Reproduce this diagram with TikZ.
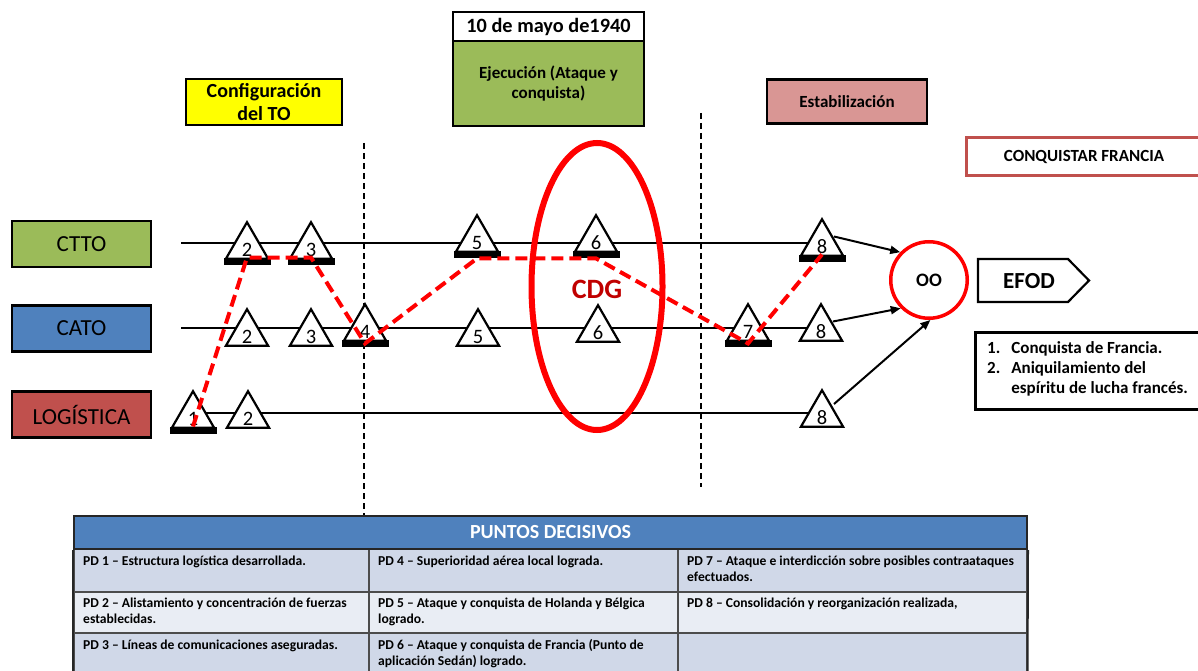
\documentclass[tikz,border=0pt]{standalone}
\usepackage{fontspec}
\setmainfont{Carlito}
\usetikzlibrary{shapes.geometric,arrows.meta}
\definecolor{cgreen}{HTML}{9BBB59}
\definecolor{cblue}{HTML}{4F81BD}
\definecolor{cred}{HTML}{C0504D}
\definecolor{cpink}{HTML}{D99694}
\definecolor{cyel}{HTML}{FFFF00}
\definecolor{cdark}{HTML}{C00000}
\definecolor{bright}{HTML}{FF0000}
\definecolor{rowa}{HTML}{D0D8E8}
\definecolor{rowb}{HTML}{E9EDF4}
\newcommand\fsz[2]{\fontsize{#1}{#2}\selectfont}
\newcommand\ml[1]{\begin{tabular}[t]{@{}l@{}}#1\end{tabular}}
% triangle: name, x, apex y, number
\newcommand\tri[4]{\draw[trist] (#2,#3+2.2) -- ++(21.1,36.55) -- ++(-42.2,0) -- cycle; \node[num] (#1) at (#2,#3+29.5) {#4};}
% bar under a triangle: name, x, apex y
\newcommand\tribar[3]{\node[tbar] (#1) at (#2,#3+37.5) {};}
\begin{document}
\begin{tikzpicture}[x=1pt,y=-1pt,
  box/.style={draw=black, line width=2.5pt, inner sep=0pt, align=center},
  lbl/.style={box, minimum width=139pt, minimum height=46pt, font=\fsz{23}{27}},
  trist/.style={draw=black, line width=2.2pt, fill=white},
  num/.style={inner sep=0pt, font=\fsz{20.5}{25}},
  tbar/.style={rectangle, fill=black, minimum width=47pt, minimum height=7.5pt, inner sep=0pt, anchor=north},
  hline/.style={line width=2pt, black},
  vdash/.style={line width=1.5pt, dash pattern=on 6pt off 4pt},
  rdash/.style={line width=4pt, bright, dash pattern=on 12pt off 6pt},
  arr/.style={line width=2pt, -{Triangle[length=10pt,width=8pt]}},
  cell/.style={draw=black!70, line width=1.5pt, inner sep=0pt, anchor=north west},
  ctext/.style={font=\fsz{13.6}{16}\bfseries, anchor=base west, inner sep=0pt}
]
\useasboundingbox (0,0) rectangle (1198,671);
\clip (0,0) rectangle (1198,671);

% top boxes
\node[box, fill=white, minimum width=191pt, minimum height=29pt, font=\fsz{20.3}{24}\bfseries] (date) at (548.5,26.5) {10 de mayo de1940};
\node[box, fill=cgreen, minimum width=191pt, minimum height=85pt, font=\fsz{17}{20}\bfseries] (ejec) at (548.5,83.5) {Ejecución (Ataque y\\conquista)};
\node[box, fill=cyel, minimum width=156pt, minimum height=46pt, font=\fsz{20}{23}\bfseries] (conf) at (264,102) {Configuración\\del TO};
\node[box, fill=cpink, minimum width=160pt, minimum height=44pt, font=\fsz{17}{20}\bfseries] (estab) at (847,101.5) {Estabilización};
\node[draw=cred, line width=3pt, minimum width=236pt, minimum height=38pt, inner sep=0pt, font=\fsz{17}{20}\bfseries] (conq) at (1084,157) {CONQUISTAR FRANCIA};

% left labels
\node[lbl, fill=cgreen] (ctto) at (81.5,244) {CTTO};
\node[lbl, fill=cblue] (cato) at (81.5,328.5) {CATO};
\node[lbl, fill=cred] (logi) at (81.5,414.5) {LOGÍSTICA};

% vertical dashed lines
\coordinate (v1a) at (364,143); \coordinate (v1b) at (364,515);
\coordinate (v2a) at (701,113); \coordinate (v2b) at (701,487);
\draw[vdash] (v1a) -- (v1b);
\draw[vdash] (v2a) -- (v2b);

% horizontal lines
\coordinate (cs) at (181,243.3); \coordinate (ce) at (822,243.3);
\coordinate (as) at (181,328.3); \coordinate (ae) at (821,328.3);
\coordinate (ls) at (193,413); \coordinate (le) at (822,413);
\draw[hline] (cs) -- (ce);
\draw[hline] (as) -- (ae);
\draw[hline] (ls) -- (le);

% centre of gravity ellipse
\node[ellipse, draw=bright, line width=6pt, minimum width=131pt, minimum height=287pt, inner sep=0pt] (cdg) at (597,286.5) {};
\node[font=\fsz{28}{32}\bfseries, text=cdark] (cdgt) at (597,289) {CDG};

% triangles CTTO
\tri{C2}{247}{220}{2}
\tri{C3}{311}{220}{3}
\tri{C5}{477}{213}{5}
\tri{C6}{596}{213}{6}
\tri{C8}{822}{217}{8}
% triangles CATO
\tri{A2}{247}{307}{2}
\tri{A3}{311}{307}{3}
\tri{A4}{365}{302}{4}
\tri{A5}{478}{307}{5}
\tri{A6}{598}{303}{6}
\tri{A7}{748}{302}{7}
\tri{A8}{821}{302}{8}
% triangles LOGISTICA
\tri{L1}{193}{389}{1}
\tri{L2}{248}{389}{2}
\tri{L8}{822}{388}{8}

% bars
\tribar{L1b}{193}{389}
\tribar{C2b}{247}{220}
\tribar{C3b}{311}{220}
\tribar{A4b}{365}{302}
\tribar{C5b}{477}{213}
\tribar{C6b}{596}{213}
\tribar{A7b}{748}{302}
\tribar{C8b}{822}{217}

% decisive path
\draw[rdash] (L1b.north) -- (C2b.north) -- (C3b.north) -- (A4b.center) -- (C5b.south) -- (C6b.south) -- (A7b.center) -- (C8b.north);

% objective
\node[circle, draw=bright, line width=3.5pt, minimum size=76.5pt, inner sep=0pt, font=\fsz{19}{22}\bfseries] (oo) at (929,280) {OO};
\coordinate (C8r) at (834,236.5);
\coordinate (A8r) at (833,321.5);
\coordinate (L8r) at (834,404);
\draw[arr] (C8r) -- (oo.136);
\draw[arr] (A8r) -- (oo.225);
\draw[arr] (L8r) -- (oo.272);

% EFOD
\draw[line width=2.2pt] (978,259) -- (1068,259) -- (1089,280.5) -- (1068,302) -- (978,302) -- cycle;
\node[font=\fsz{23}{27}\bfseries] (efod) at (1029,281) {EFOD};

% list box
\node[draw=black, line width=3pt, minimum width=240pt, minimum height=77pt, inner sep=0pt, anchor=north west] (lbox) at (974,331) {};
\node[anchor=base west, inner sep=0pt, font=\fsz{17}{20}\bfseries] (ltxt) at (987,353) {\begin{tabular}[t]{@{}l@{\hspace{11pt}}l@{}}1. & Conquista de Francia.\\ 2. & Aniquilamiento del\\ & espíritu de lucha francés.\end{tabular}};

% table
\node[cell, fill=rowa, minimum width=295pt, minimum height=43pt] (c11) at (73,548) {};
\node[cell, fill=rowa, minimum width=309pt, minimum height=43pt] (c21) at (368,548) {};
\node[cell, fill=rowa, minimum width=349pt, minimum height=43pt] (c31) at (677,548) {};
\node[cell, fill=rowb, minimum width=295pt, minimum height=41pt] (c12) at (73,591) {};
\node[cell, fill=rowb, minimum width=309pt, minimum height=41pt] (c22) at (368,591) {};
\node[cell, fill=rowb, minimum width=349pt, minimum height=41pt] (c32) at (677,591) {};
\node[cell, fill=rowa, minimum width=295pt, minimum height=45pt] (c13) at (73,632) {};
\node[cell, fill=rowa, minimum width=309pt, minimum height=45pt] (c23) at (368,632) {};
\node[cell, fill=rowa, minimum width=349pt, minimum height=45pt] (c33) at (677,632) {};
\node[draw=black!85, line width=2pt, fill=cblue, minimum width=953pt, minimum height=33pt, inner sep=0pt, anchor=north west, text=white, font=\fsz{20}{24}\bfseries] (hdr) at (73,515) {PUNTOS DECISIVOS};
\draw[draw=black!85, line width=2pt] (hdr.south west) -- (c13.south west);
\draw[draw=black!85, line width=2pt] (hdr.south east) -- (c33.south east);

\node[ctext] (t11) at (83,565) {PD 1 -- Estructura logística desarrollada.};
\node[ctext] (t21) at (378,565) {PD 4 -- Superioridad aérea local lograda.};
\node[ctext] (t31) at (687,565) {\ml{PD 7 -- Ataque e interdicción sobre posibles contraataques\\efectuados.}};
\node[ctext] (t12) at (83,607) {\ml{PD 2 -- Alistamiento y concentración de fuerzas\\establecidas.}};
\node[ctext] (t22) at (378,607) {\ml{PD 5 -- Ataque y conquista de Holanda y Bélgica\\logrado.}};
\node[ctext] (t32) at (687,607) {PD 8 -- Consolidación y reorganización realizada,};
\node[ctext] (t13) at (83,649) {PD 3 -- Líneas de comunicaciones aseguradas.};
\node[ctext] (t23) at (378,649) {\ml{PD 6 -- Ataque y conquista de Francia (Punto de\\aplicación Sedán) logrado.}};
\end{tikzpicture}
\end{document}
